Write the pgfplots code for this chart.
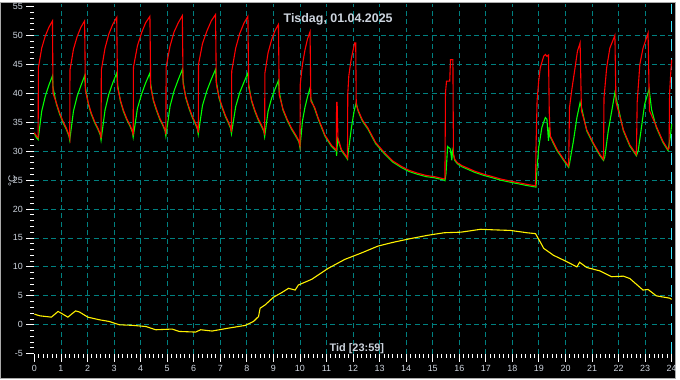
\documentclass[border=0pt]{standalone}
\usepackage{pgfplots}
\pgfplotsset{compat=1.18}
\usepackage{fontspec}
\setmainfont{Liberation Sans}
\definecolor{txt}{RGB}{205,212,222}
\definecolor{gridc}{RGB}{0,128,128}
\definecolor{curs}{RGB}{60,230,255}
\definecolor{frame}{RGB}{170,170,170}
\begin{document}
\begin{tikzpicture}[x=1pt,y=1pt]
\fill[black] (0,0) rectangle (680,380);
\draw[frame, line width=1pt] (0.5,0.5) rectangle (679.5,379.5);
\begin{axis}[
  at={(34.6pt,25.9pt)}, anchor=south west,
  scale only axis, width=640.8pt, height=352.1pt,
  xmin=0, xmax=24, ymin=-5, ymax=55.5,
  axis line style={draw=none},
  clip=false,
  xtick={0,...,24}, ytick={-5,0,...,55},
  minor x tick num=5, minor y tick num=4,
  xtick pos=left, ytick pos=left,
  tick align=outside,
  major tick length=8pt, minor tick length=4pt,
  tick style={white, line width=0.9pt},
  /pgf/number format/assume math mode=true,
  ticklabel style={font=\fontsize{9}{10}\selectfont, text=txt},
  extra x ticks={1,...,23}, extra x tick labels={},
  extra x tick style={grid=major, major tick length=0pt},
  extra y ticks={0,5,...,50}, extra y tick labels={},
  extra y tick style={grid=major, major tick length=0pt},
  major grid style={gridc, line width=0.9pt, dash pattern=on 5pt off 3.5pt},
]
\addplot[curs, line width=1pt, dash pattern=on 12pt off 7pt] coordinates {(24,-5) (24,55.5)};
\addplot[yellow, line width=1.1pt] coordinates {
(0,1.84) (0.2,1.55) (0.64,1.32) (0.89,2.3) (1.01,2.0) (1.26,1.32) (1.55,2.4) (1.70,2.2) (2.01,1.32) (2.45,0.86) (2.82,0.57) (3.2,0.0) (3.70,-0.1) (4.2,-0.3) (4.57,-0.86) (5.19,-0.74) (5.45,-1.15) (6.07,-1.26) (6.26,-0.86) (6.69,-1.08) (7.32,-0.57) (7.94,-0.11) (8.25,0.57) (8.44,1.43) (8.5,2.86) (8.69,3.44) (9.0,4.75) (9.31,5.55) (9.57,6.3) (9.82,6.0) (9.94,6.87) (10.44,7.85) (11.06,9.74) (11.69,11.3) (12.31,12.4) (12.94,13.6) (13.56,14.3) (14.18,14.9) (14.81,15.46) (15.43,15.9) (16.06,16.0) (16.81,16.5) (17.31,16.4) (17.93,16.3) (18.55,15.9) (18.87,15.75) (19.05,14.3) (19.18,13.2) (19.55,12.0) (20.05,10.9) (20.43,10.0) (20.53,10.8) (20.8,9.9) (21.30,9.3) (21.74,8.3) (22.18,8.4) (22.42,8.0) (22.92,6.0) (23.11,6.1) (23.42,5.0) (23.92,4.6) (24,4.4)
};
\addplot[green, line width=1.1pt] coordinates {
(0,33.0) (0.08,32.3) (0.14,32.0) (0.275,36.9) (0.41,39.5) (0.545,41.4) (0.68,43.0) (0.70,41.0) (0.83,38.1) (0.95,36.4) (1.08,34.9) (1.2,33.8) (1.3,32.6) (1.33,31.9)
(1.47,36.9) (1.61,39.5) (1.75,41.3) (1.89,43.0) (1.92,41.0) (2.03,38.1) (2.14,36.4) (2.27,34.9) (2.39,33.8) (2.48,32.8) (2.51,31.9)
(2.66,37.1) (2.80,39.8) (2.95,41.8) (3.10,43.5) (3.13,41.5) (3.24,38.6) (3.35,36.9) (3.48,35.4) (3.60,34.3) (3.69,33.3) (3.72,32.4)
(3.88,37.4) (4.04,39.9) (4.19,41.8) (4.35,43.5) (4.38,41.5) (4.48,38.7) (4.60,37.0) (4.72,35.5) (4.83,34.5) (4.92,33.5) (4.95,32.6)
(5.11,37.8) (5.26,40.4) (5.42,42.4) (5.57,44.1) (5.60,42.1) (5.70,39.2) (5.82,37.4) (5.94,35.9) (6.05,34.8) (6.14,33.8) (6.17,32.9)
(6.33,37.9) (6.50,40.5) (6.66,42.4) (6.82,44.1) (6.85,42.1) (6.95,39.2) (7.07,37.5) (7.19,36.0) (7.30,34.9) (7.39,33.9) (7.42,33.0)
(7.58,37.7) (7.73,40.1) (7.89,41.9) (8.04,43.5) (8.07,41.5) (8.18,38.6) (8.30,36.9) (8.42,35.5) (8.54,34.4) (8.64,33.4) (8.67,32.5)
(8.80,36.9) (8.93,39.1) (9.06,40.7) (9.19,42.2) (9.22,40.2) (9.36,37.1) (9.52,35.3) (9.68,33.8) (9.84,32.6) (9.96,31.6) (10.0,30.6)
(10.095,35.2) (10.19,37.6) (10.285,39.4) (10.38,40.9) (10.41,39.0) (10.55,37.4) (10.69,35.5) (10.94,32.6) (11.19,30.8) (11.37,30.0)
(11.38,29.2) (11.42,32.1) (11.56,30.1) (11.75,28.9) (11.79,28.6)
(11.81,29.5) (11.94,34.1) (12.04,36.9) (12.12,38.4) (12.19,36.9) (12.35,35.2) (12.56,33.8) (12.85,31.3) (13.19,29.5) (13.5,28.1) (13.81,27.2) (14.1,26.5) (14.43,26.0) (14.75,25.6) (15.06,25.4) (15.43,25.0) (15.46,24.9)
(15.5,26.1) (15.56,30.8) (15.66,30.4) (15.72,28.4) (15.74,30.1) (15.83,28.4) (15.93,27.8) (16.1,27.3) (16.3,26.9) (16.6,26.3) (16.93,25.8) (17.25,25.4) (17.55,25.0) (17.85,24.7) (18.18,24.4) (18.5,24.1) (18.87,23.8)
(18.89,23.8) (18.93,27.2) (18.99,30.6) (19.11,34.1) (19.24,35.8) (19.30,35.5) (19.36,31.8) (19.39,34.1) (19.43,32.4) (19.68,30.1) (19.93,28.4) (20.12,27.2)
(20.15,27.8) (20.3,31.8) (20.43,35.8) (20.55,38.4) (20.62,37.2) (20.8,33.5) (21.05,31.2) (21.3,29.2) (21.43,28.4)
(21.48,29.0) (21.61,33.5) (21.74,36.9) (21.86,40.1) (21.93,38.7) (22.18,33.5) (22.42,30.9) (22.67,29.2)
(22.74,30.1) (22.86,34.1) (22.98,38.1) (23.15,40.7) (23.24,37.2) (23.42,34.1) (23.67,31.5) (23.86,30.1)
(23.95,32.5) (24.0,34.7)
};
\addplot[red, line width=1.1pt] coordinates {
(0,33.2) (0.08,32.6) (0.14,32.3) (0.15,44.4) (0.275,47.8) (0.41,49.9) (0.545,51.4) (0.68,52.5) (0.70,40.0) (0.83,38.3) (0.95,36.6) (1.08,35.1) (1.2,34.0) (1.3,32.8) (1.33,32.2)
(1.34,44.0) (1.47,47.6) (1.61,49.8) (1.75,51.4) (1.89,52.5) (1.92,40.5) (2.03,38.3) (2.14,36.6) (2.27,35.1) (2.39,34.0) (2.48,33.0) (2.51,32.2)
(2.52,44.0) (2.66,47.8) (2.80,50.2) (2.95,51.9) (3.10,53.1) (3.13,41.0) (3.24,38.8) (3.35,37.1) (3.48,35.6) (3.60,34.5) (3.69,33.5) (3.72,32.7)
(3.73,44.5) (3.88,48.2) (4.04,50.5) (4.19,52.2) (4.35,53.3) (4.38,41.0) (4.48,38.9) (4.60,37.2) (4.72,35.7) (4.83,34.7) (4.92,33.7) (4.95,32.9)
(4.96,44.5) (5.11,48.2) (5.26,50.6) (5.42,52.2) (5.57,53.4) (5.60,41.6) (5.70,39.4) (5.82,37.6) (5.94,36.1) (6.05,35.0) (6.14,34.0) (6.17,33.2)
(6.18,45.0) (6.33,48.6) (6.50,50.8) (6.66,52.5) (6.82,53.6) (6.85,41.6) (6.95,39.4) (7.07,37.7) (7.19,36.2) (7.30,35.1) (7.39,34.1) (7.42,33.3)
(7.43,43.8) (7.58,47.8) (7.73,50.3) (7.89,52.1) (8.04,53.3) (8.07,41.0) (8.18,38.8) (8.30,37.1) (8.42,35.7) (8.54,34.6) (8.64,33.6) (8.67,32.8)
(8.68,43.5) (8.80,47.0) (8.93,49.2) (9.06,50.8) (9.19,51.9) (9.22,39.7) (9.36,37.3) (9.52,35.5) (9.68,34.0) (9.84,32.8) (9.96,31.8) (10.0,30.9)
(10.01,41.5) (10.095,45.0) (10.19,47.5) (10.285,49.4) (10.38,50.6) (10.41,38.6) (10.55,37.6) (10.69,35.7) (10.94,32.8) (11.19,31.0) (11.37,30.2)
(11.38,38.4) (11.40,38.4) (11.41,36.1) (11.43,32.3) (11.56,30.3) (11.75,29.1) (11.79,28.8)
(11.80,39.8) (11.84,43.0) (11.90,45.0) (11.94,46.1) (12.06,48.7) (12.10,48.7) (12.12,38.0) (12.19,37.1) (12.35,35.4) (12.56,34.0) (12.85,31.5) (13.19,29.7) (13.5,28.3) (13.81,27.4) (14.1,26.7) (14.43,26.2) (14.75,25.8) (15.06,25.6) (15.43,25.2)
(15.46,25.3) (15.48,40.1) (15.52,42.1) (15.64,42.1) (15.67,45.8) (15.76,45.8) (15.78,29.5) (15.83,28.6) (15.93,28.0) (16.1,27.5) (16.3,27.1) (16.6,26.5) (16.93,26.0) (17.25,25.6) (17.55,25.2) (17.85,24.9) (18.18,24.6) (18.5,24.3) (18.87,24.0)
(18.89,30.6) (18.93,38.7) (18.99,42.1) (19.05,44.4) (19.18,46.4) (19.24,46.7) (19.30,46.4) (19.36,46.6) (19.39,36.4) (19.43,32.6) (19.68,30.3) (19.93,28.6) (20.12,27.4)
(20.15,37.5) (20.24,40.7) (20.36,44.4) (20.45,47.3) (20.55,48.7) (20.60,37.0) (20.8,33.7) (21.05,31.4) (21.3,29.4) (21.43,28.6)
(21.45,39.2) (21.55,44.4) (21.67,47.8) (21.86,50.0) (21.90,38.5) (22.18,33.7) (22.42,31.1) (22.67,29.4)
(22.70,38.5) (22.8,45.0) (22.92,47.8) (23.11,50.4) (23.16,37.0) (23.42,34.3) (23.67,31.7) (23.86,30.3)
(23.9,30.5) (23.92,40.0) (23.97,44.0) (24.0,45.8)
};
\end{axis}
\node[text=txt, font=\bfseries\fontsize{12.5}{14}\selectfont] at (340,362.5) {Tisdag, 01.04.2025};
\node[text=txt, font=\bfseries\fontsize{11}{13}\selectfont] at (358.8,31) {Tid [23:59]};
\node[text=txt, font=\fontsize{10}{12}\selectfont, rotate=90] at (12,200) {°C};
\end{tikzpicture}
\end{document}
